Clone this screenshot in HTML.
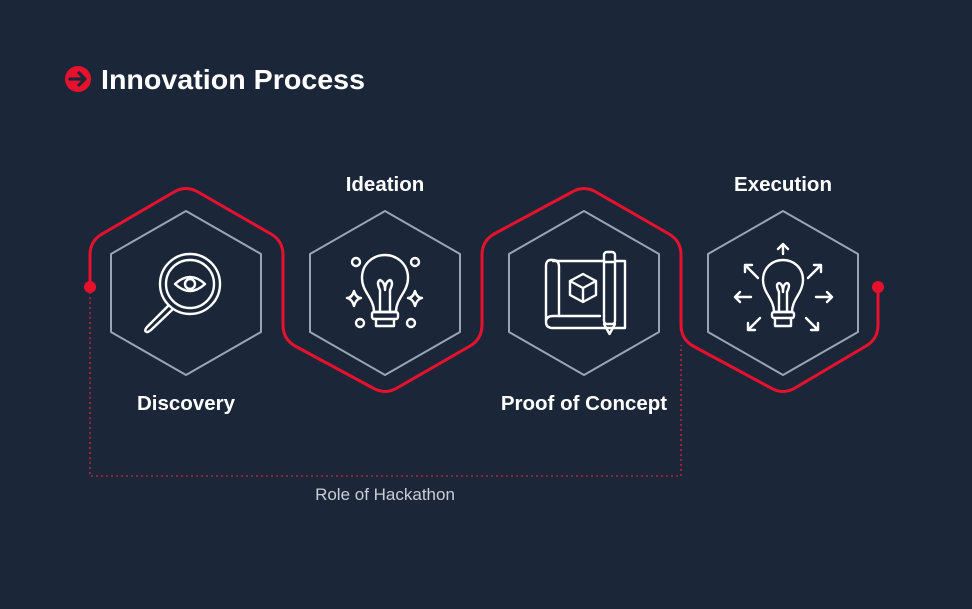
<!DOCTYPE html>
<html><head><style>
html,body{margin:0;padding:0;background:#1b2739;}
svg{display:block}
text{font-family:"Liberation Sans",sans-serif;}
</style></head><body>
<svg width="972" height="609" viewBox="0 0 972 609" xmlns="http://www.w3.org/2000/svg">
<rect width="972" height="609" fill="#1b2739"/>
<!-- title -->
<circle cx="78" cy="79" r="13" fill="#e8112d"/>
<path d="M70,79 H84 M79,73 L85,79 L79,85" stroke="#1b2739" stroke-width="3.2" fill="none" stroke-linecap="round" stroke-linejoin="round"/>
<text x="101" y="89" font-size="28" font-weight="bold" fill="#fff" textLength="264" lengthAdjust="spacingAndGlyphs">Innovation Process</text>

<!-- dotted bracket -->
<path d="M90,292 V476 H681 V345" stroke="#b3233a" stroke-width="1.6" fill="none" stroke-dasharray="2 3"/>
<text x="385" y="500" font-size="17" fill="#c9ced6" text-anchor="middle">Role of Hackathon</text>

<!-- red path -->
<path d="M90,287 L90,255 Q90,241 102,234 L174,192 Q186,185 198,192 L271,234 Q283,241 283,255 L283,325 Q283,339 295,346 L373,388 Q385,395 397,388 L470,346 Q482,339 482,325 L482,255 Q482,241 494,234 L572,192 Q584,185 596,192 L669,234 Q681,241 681,255 L681,325 Q681,339 693,346 L771,388 Q783,395 795,388 L866,346 Q878,339 878,325 L878,287" stroke="#e8112d" stroke-width="3" fill="none" stroke-linejoin="round"/>
<circle cx="90" cy="287" r="6" fill="#e8112d"/>
<circle cx="878" cy="287" r="6" fill="#e8112d"/>

<!-- gray hexes -->
<g stroke="#9aa4b3" stroke-width="2" fill="none" stroke-linejoin="round">
<path d="M186,211 L261,254 L261,332 L186,375 L111,332 L111,254 Z"/>
<path d="M385,211 L460,254 L460,332 L385,375 L310,332 L310,254 Z"/>
<path d="M584,211 L659,254 L659,332 L584,375 L509,332 L509,254 Z"/>
<path d="M783,211 L858,254 L858,332 L783,375 L708,332 L708,254 Z"/>
</g>

<!-- icons -->
<g stroke="#fff" stroke-width="2.4" fill="none" stroke-linecap="round" stroke-linejoin="round">
<!-- discovery -->
<circle cx="190" cy="284" r="30"/>
<circle cx="190" cy="284" r="24"/>
<path d="M175,284 Q190,270 205,284 Q190,298 175,284 Z"/>
<circle cx="190" cy="284" r="5"/>
<path d="M168,306 L147,327 Q143,332 148,332 L151,330 L172,310"/>
<!-- ideation -->
<path d="M374,312 C374,298 362,292 362,278 C362,264 373,255 385,255 C397,255 408,264 408,278 C408,292 396,298 396,312 Z"/>
<path d="M380,312 V290 M390,312 V290 M380,290 Q376,282 380,280 Q385,282 385,290 Q385,282 390,280 Q394,282 390,290"/>
<rect x="372" y="312" width="26" height="7" rx="2"/>
<path d="M376,319 V326 H394 V319"/>
<circle cx="356" cy="262" r="4"/><circle cx="415" cy="262" r="4"/>
<circle cx="360" cy="323" r="4"/><circle cx="411" cy="323" r="4"/>
<path d="M347,298 Q352,298 354,291 Q356,298 361,298 Q356,299 354,306 Q352,299 347,298 Z"/>
<path d="M408,298 Q413,298 415,291 Q417,298 422,298 Q417,299 415,306 Q413,299 408,298 Z"/>
<!-- proof of concept -->
<path d="M553,261 H625 V328 H553 Q546,328 546,322 V266 Q546,259 553,260 Q559,260 559,267 V316 H553 Q546,316 546,322"/>
<path d="M559,316 H600"/>
<path d="M583,274 L596,281 V295 L583,302 L570,295 V281 Z M570,281 L583,288 L596,281 M583,288 V302"/>
<rect x="604" y="252" width="11" height="72" rx="3" fill="#1b2739"/>
<path d="M604,324 L609.5,334 L615,324 M604,262 H615"/>
<!-- execution -->
<path d="M774,312 C774,299 763,293 763,280 C763,268 772,260 783,260 C794,260 803,268 803,280 C803,293 792,299 792,312 Z"/>
<path d="M779,312 V292 M787,312 V292 M779,292 Q775,284 779,283 Q783,284 783,292 Q783,284 787,283 Q791,284 787,292"/>
<rect x="772" y="312" width="22" height="6" rx="2"/>
<path d="M775,318 V326 H791 V318"/>
<path d="M783,254 V244 M778,249 L783,244 L788,249"/>
<path d="M758,278 L745,265 M745,272 V265 H752"/>
<path d="M808,278 L821,265 M814,265 H821 V272"/>
<path d="M751,297 H735 M740,292 L735,297 L740,302"/>
<path d="M816,297 H832 M827,292 L832,297 L827,302"/>
<path d="M760,318 L748,330 M748,323 V330 H755"/>
<path d="M806,318 L818,330 M811,330 H818 V323"/>
</g>

<!-- labels -->
<g font-size="20.5" font-weight="bold" fill="#fff" text-anchor="middle">
<text x="186" y="410">Discovery</text>
<text x="385" y="191">Ideation</text>
<text x="584" y="410">Proof of Concept</text>
<text x="783" y="191">Execution</text>
</g>
</svg>
</body></html>
